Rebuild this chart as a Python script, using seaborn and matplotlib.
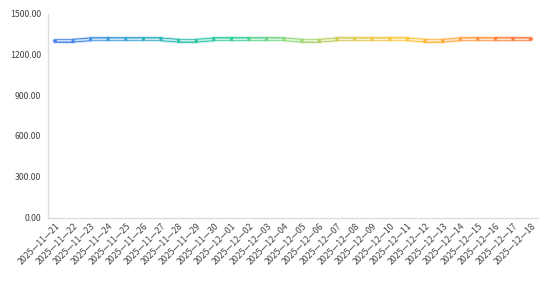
import numpy as np
import pandas as pd
import matplotlib
matplotlib.use("Agg")
import matplotlib.pyplot as plt
import seaborn as sns
from matplotlib.collections import LineCollection
from matplotlib.colors import LinearSegmentedColormap

dates = ["2025-11-21", "2025-11-22", "2025-11-23", "2025-11-24", "2025-11-25",
         "2025-11-26", "2025-11-27", "2025-11-28", "2025-11-29", "2025-11-30",
         "2025-12-01", "2025-12-02", "2025-12-03", "2025-12-04", "2025-12-05",
         "2025-12-06", "2025-12-07", "2025-12-08", "2025-12-09", "2025-12-10",
         "2025-12-11", "2025-12-12", "2025-12-13", "2025-12-14", "2025-12-15",
         "2025-12-16", "2025-12-17", "2025-12-18"]
prices = [1300, 1300, 1310, 1310, 1310, 1310, 1310, 1300, 1300, 1310,
          1310, 1310, 1310, 1310, 1300, 1300, 1310, 1310, 1310, 1310,
          1310, 1300, 1300, 1310, 1310, 1310, 1310, 1310]
tick_labels = [d.replace("-", "—") for d in dates]
y_ticks = [0, 300, 600, 900, 1200, 1500]

sns.set_style("white")
plt.rcParams['font.family'] = ['Noto Sans CJK SC', 'DejaVu Sans']
plt.rcParams['lines.scale_dashes'] = False

df = pd.DataFrame({"idx": np.arange(len(dates)), "price": prices})

fig = plt.figure(figsize=(5.54, 2.82), dpi=100)
ax = fig.add_axes([48/554, 1-217.5/282, (538-48)/554, (217.5-13.5)/282])

cmap = LinearSegmentedColormap.from_list("grad", [
    "#4a7fe8", "#3a9fdc", "#2bbfae", "#2ecf9a", "#8fd87a",
    "#d8c84a", "#ffc83a", "#ffa040", "#ff7a3d"])

x = df["idx"].to_numpy(dtype=float)
y = df["price"].to_numpy(dtype=float)
pts = np.column_stack([x, y]).reshape(-1, 1, 2)
segs = np.concatenate([pts[:-1], pts[1:]], axis=1)
cols = cmap(np.linspace(0, 1, len(segs)))
glow = LineCollection(segs, colors=cols, linewidths=4.2, alpha=0.18, capstyle='round', joinstyle='round')
ax.add_collection(glow)
lc = LineCollection(segs, colors=cols, linewidths=2.7, capstyle='round', joinstyle='round')
ax.add_collection(lc)

ax.set_xlim(-0.42, 27.4)
ax.set_ylim(0, 1500)

# white dashes, one per segment, gaps centred on the data points
spacing_pt = (ax.transData.transform((1, 0))[0] - ax.transData.transform((0, 0))[0]) * 72 / fig.dpi
gap = 2.2
dash = spacing_pt - gap
sns.lineplot(data=df, x="idx", y="price", ax=ax, color="white", linewidth=1.2,
             linestyle=(dash + gap / 2, (dash, gap)), alpha=0.75, zorder=5)

ax.set_xlim(-0.42, 27.4)
ax.set_ylim(0, 1500)
ax.set_yticks(y_ticks)
ax.set_yticklabels([f"{v:.2f}" for v in y_ticks])
ax.set_xticks(x)
ax.set_xticklabels(tick_labels, rotation=45, ha='right', rotation_mode='anchor')
ax.set_xlabel("")
ax.set_ylabel("")
ax.tick_params(axis='both', length=0, labelsize=6.3, colors="#444444")
ax.tick_params(axis='y', pad=5)
ax.tick_params(axis='x', pad=3)
for s in ["top", "right"]:
    ax.spines[s].set_visible(False)
for s in ["left", "bottom"]:
    ax.spines[s].set_color("#dddddd")
    ax.spines[s].set_linewidth(1)
ax.grid(False)

fig.savefig("out.png", dpi=100)
